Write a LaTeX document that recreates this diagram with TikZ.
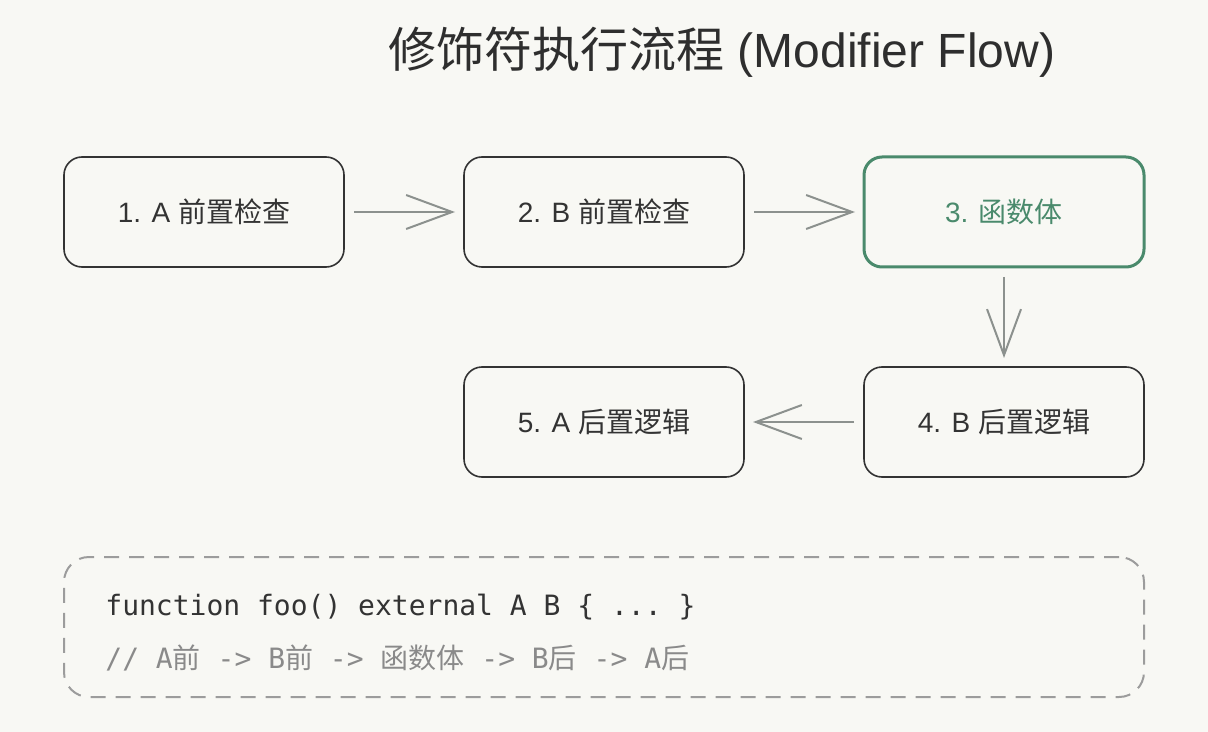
\documentclass[tikz,border=0pt]{standalone}
\usepackage{fontspec}
\setmainfont{Liberation Sans}
\setmonofont{DejaVu Sans Mono}
\newfontfamily\cjk{Noto Sans CJK SC}
\usetikzlibrary{arrows.meta,positioning}
\definecolor{mfbg}{HTML}{F8F8F4}
\definecolor{mfink}{HTML}{333333}
\definecolor{mfgreen}{HTML}{4A8A6C}
\definecolor{mfgrey}{HTML}{8C918E}
\definecolor{mfdash}{HTML}{9C9C9C}
\definecolor{mfnote}{HTML}{8A8A8A}
\tikzset{
  stepbox/.style={draw=mfink,line width=0.8pt,fill=mfbg,rounded corners=9pt,
    minimum width=140pt,minimum height=55pt,inner sep=0pt,outer sep=0pt,
    font=\fontsize{14}{16}\selectfont,text=mfink},
  bodybox/.style={stepbox,draw=mfgreen,line width=1.5pt,text=mfgreen},
  flowarrow/.style={draw=mfgrey,line width=1pt,shorten <=5pt,shorten >=4.5pt,
    -{Straight Barb[length=23pt,width=17pt,line width=1pt]}},
  codeframe/.style={draw=mfdash,line width=1pt,dash pattern=on 7.5pt off 5pt,
    rounded corners=12.5pt,minimum width=540pt,minimum height=70pt,inner sep=0pt},
  codeline/.style={anchor=west,inner sep=0pt,font=\ttfamily\fontsize{14}{16}\selectfont}
}
\begin{document}
\begin{tikzpicture}[x=0.5pt,y=-0.5pt]
  \fill[mfbg] (0,0) rectangle (1208,732);
  \useasboundingbox (0,0) rectangle (1208,732);

  \node[font=\fontsize{24}{28}\selectfont,text=mfink!90!black] (title) at (722,52)
    {{\cjk 修饰符执行流程} (Modifier Flow)};

  % top row: checks, then the body
  \node[stepbox] (checkA) at (204,212) {1. A {\cjk 前置检查}};
  \node[stepbox,right=60pt of checkA] (checkB) {2. B {\cjk 前置检查}};
  \node[bodybox,right=60pt of checkB] (body) {3. {\cjk 函数体}};
  % bottom row: after logic, back to front
  \node[stepbox,below=50pt of body] (afterB) {4. B {\cjk 后置逻辑}};
  \node[stepbox,left=60pt of afterB] (afterA) {5. A {\cjk 后置逻辑}};

  \draw[flowarrow] (checkA) -- (checkB);
  \draw[flowarrow] (checkB) -- (body);
  \draw[flowarrow] (body) -- (afterB);
  \draw[flowarrow] (afterB) -- (afterA);

  % code sample
  \node[codeframe] (code) at (604,627) {};
  \node[codeline,text=mfink] (sig) at (105,607) {function foo() external A B \{ ... \}};
  \node[codeline,text=mfnote] (order) at (105,658)
    {// A{\cjk 前} -> B{\cjk 前} -> {\cjk 函数体} -> B{\cjk 后} -> A{\cjk 后}};
\end{tikzpicture}
\end{document}
